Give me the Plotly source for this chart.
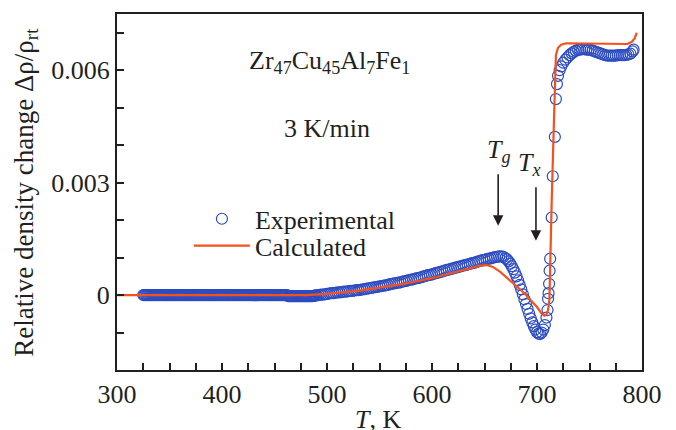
import plotly.graph_objects as go

# Experimental data (T in K, relative density change)
T_exp = [325, 326, 327, 328, 329, 330, 331, 332, 333, 334, 335, 336, 337, 338, 339,
         340, 341, 342, 343, 344, 345, 346, 347, 348, 349, 350, 351, 352, 353, 354,
         355, 356, 357, 358, 359, 360, 361, 362, 363, 364, 365, 366, 367, 368, 369,
         370, 371, 372, 373, 374, 375, 376, 377, 378, 379, 380, 381, 382, 383, 384,
         385, 386, 387, 388, 389, 390, 391, 392, 393, 394, 395, 396, 397, 398, 399,
         400, 401, 402, 403, 404, 405, 406, 407, 408, 409, 410, 411, 412, 413, 414,
         415, 416, 417, 418, 419, 420, 421, 422, 423, 424, 425, 426, 427, 428, 429,
         430, 431, 432, 433, 434, 435, 436, 437, 438, 439, 440, 441, 442, 443, 444,
         445, 446, 447, 448, 449, 450, 451, 452, 453, 454, 455, 456, 457, 458, 459,
         460, 461, 462, 463, 464, 465, 466, 467, 468, 469, 470, 471, 472, 473, 474,
         475, 476, 477, 478, 479, 480, 481, 482, 483, 484, 485, 486, 487, 488, 489,
         490, 492, 494, 496, 498, 500, 502, 504, 506, 508, 510, 512, 514, 516, 518,
         520, 522, 524, 526, 528, 530, 532, 534, 536, 538, 540, 542, 544, 546, 548,
         550, 552, 554, 556, 558, 560, 562, 564, 566, 568, 570, 572, 574, 576, 578,
         580, 582, 584, 586, 588, 590, 592, 594, 596, 598, 600, 602, 604, 606, 608,
         610, 612, 614, 616, 618, 620, 622, 624, 626, 628, 630, 632, 634, 636, 638,
         640, 642, 644, 646, 648, 650, 652, 654, 656, 658, 660, 662, 664, 666, 668,
         670, 671.5, 673, 674.5, 676, 677.5, 679, 680.5, 682, 683.5, 685, 686.5, 688,
         689.5, 691, 692.5, 694, 695.5, 697, 698.5, 700, 701.5, 703, 704.5, 706, 707.5,
         709, 710, 710.5, 711, 711.5, 712, 712.5, 714, 715, 717, 718, 719, 720, 721.5,
         723, 725, 727, 729, 731, 733, 735, 737, 739, 741, 743, 745, 747, 749, 751,
         753, 755, 757, 759, 761, 763, 765, 767, 769, 771, 773, 775, 777, 779, 781,
         783, 785, 787, 789, 791, 792]
rho_exp = [0.0, 0.0, 0.0, 0.0, 0.0, 0.0, 0.0, 0.0, 0.0, 0.0, 0.0, 0.0, 0.0, 0.0, 0.0,
           0.0, 0.0, 0.0, 0.0, 0.0, 0.0, 0.0, 0.0, 0.0, 0.0, 0.0, 0.0, 0.0, 0.0, 0.0,
           0.0, 0.0, 0.0, 0.0, 0.0, 0.0, 0.0, 0.0, 0.0, 0.0, 0.0, 0.0, 0.0, 0.0, 0.0,
           0.0, 0.0, 0.0, 0.0, 0.0, 0.0, 0.0, 0.0, 0.0, 0.0, 0.0, 0.0, 0.0, 0.0, 0.0,
           0.0, 0.0, 0.0, 0.0, 0.0, 0.0, 0.0, 0.0, 0.0, 0.0, 0.0, 0.0, 0.0, 0.0, 0.0,
           0.0, 0.0, 0.0, 0.0, 0.0, 0.0, 0.0, 0.0, 0.0, 0.0, 0.0, 0.0, 0.0, 0.0, 0.0,
           0.0, 0.0, 0.0, 0.0, 0.0, 0.0, 0.0, 0.0, 0.0, 0.0, 0.0, 0.0, 0.0, 0.0, 0.0,
           0.0, 0.0, 0.0, 0.0, 0.0, 0.0, 0.0, 0.0, 0.0, 0.0, 0.0, 0.0, 0.0, 0.0, 0.0,
           0.0, 0.0, 0.0, 0.0, 0.0, 0.0, 0.0, 0.0, 0.0, 0.0, 0.0, 0.0, 0.0, 0.0, 0.0,
           0.0, 0.0, 0.0, -0.00003, -0.00003, -0.00003, -0.00003, -0.00003, -0.00003, -0.00003, -0.00003, -0.00003, -0.00003, -0.00003, -0.00003,
           -0.00003, -0.00003, -0.00003, -0.00003, -0.00003, -0.00003, -0.00003, -0.00003, -0.00003, -0.00003, -0.00003, -0.00003, -0.00002, -0.00002, -0.00001,
           -0.00001, 0.0, 0.00001, 0.00001, 0.00002, 0.00003, 0.00004, 0.00005, 0.00005, 0.00006, 0.00007, 0.00007, 0.00008, 0.00009, 0.00009,
           0.0001, 0.00011, 0.00011, 0.00012, 0.00013, 0.00013, 0.00014, 0.00015, 0.00016, 0.00017, 0.00018, 0.00019, 0.0002, 0.00021, 0.00022,
           0.00023, 0.00024, 0.00025, 0.00026, 0.00027, 0.00029, 0.0003, 0.00031, 0.00032, 0.00033, 0.00034, 0.00036, 0.00037, 0.00038, 0.0004,
           0.00041, 0.00042, 0.00044, 0.00045, 0.00046, 0.00048, 0.0005, 0.00051, 0.00053, 0.00054, 0.00055, 0.00057, 0.00059, 0.0006, 0.00062,
           0.00063, 0.00065, 0.00067, 0.00068, 0.0007, 0.00071, 0.00073, 0.00074, 0.00076, 0.00077, 0.00079, 0.0008, 0.00082, 0.00083, 0.00085,
           0.00086, 0.00088, 0.0009, 0.00091, 0.00093, 0.00094, 0.00096, 0.00097, 0.00098, 0.001, 0.00101, 0.00102, 0.00103, 0.00103, 0.00102,
           0.00098, 0.00095, 0.0009, 0.00084, 0.00077, 0.00069, 0.0006, 0.0005, 0.00039, 0.00027, 0.00015, 0.00002, -0.00011,
           -0.00024, -0.00037, -0.0005, -0.00062, -0.00073, -0.00083, -0.00092, -0.00099, -0.00103, -0.00104, -0.001, -0.00092, -0.0008,
           -0.0006, -0.0004, -0.0001, 0.00005, 0.0003, 0.00065, 0.00097, 0.00207, 0.00317, 0.00422, 0.00523, 0.00563, 0.00585, 0.006,
           0.0061, 0.0062, 0.00628, 0.00634, 0.0064, 0.00645, 0.00649, 0.00652, 0.00654, 0.00655, 0.00656, 0.00656, 0.00655, 0.00655, 0.00654,
           0.00652, 0.0065, 0.00648, 0.00646, 0.00644, 0.00642, 0.0064, 0.00639, 0.00639, 0.00639, 0.00639, 0.00639, 0.0064, 0.0064, 0.0064,
           0.0064, 0.00641, 0.00642, 0.00644, 0.0065, 0.00655]

# Calculated curve
T_calc = [300, 350, 400, 450, 480, 500, 525, 550, 575, 600, 620, 635, 645, 652, 658, 665,
          672, 680, 688, 694, 700, 704, 707, 709, 710.5, 711.8, 712.4, 714, 716, 718,
          720, 723, 728, 740, 760, 780, 786, 790, 793, 795]
rho_calc = [0.0, 0.0, 0.0, 0.0, 0.0, 0.00003, 0.0001, 0.0002, 0.00031, 0.00045, 0.0006, 0.00071, 0.00078, 0.0008, 0.00075, 0.00062,
            0.00045, 0.00024, 0.00005, -0.00014, -0.00032, -0.00048, -0.00055, -0.00052, -0.0004, -0.00013, 0.00075, 0.0025, 0.0045, 0.0064,
            0.0066, 0.00668, 0.00672, 0.00672, 0.0067, 0.0067, 0.0067, 0.00675, 0.00685, 0.007]

x_ticks = [300, 325, 350, 375, 400, 425, 450, 475, 500, 525, 550, 575, 600, 625, 650, 675, 700, 725, 750, 775, 800]
x_labels = ["300", "", "", "", "400", "", "", "", "500", "", "", "", "600", "", "", "", "700", "", "", "", "800"]
y_ticks = [-0.001, 0.0, 0.001, 0.002, 0.003, 0.004, 0.005, 0.006, 0.007]
y_labels = ["", "0", "", "", "0.003", "", "", "0.006", ""]

FONT = "Liberation Serif, Times New Roman, serif"
AX = "#231f20"

fig = go.Figure()
fig.add_trace(go.Scatter(
    x=T_exp, y=rho_exp, mode="markers", name="Experimental", legend="legend",
    marker=dict(symbol="circle-open", size=11, color="#2d4cc0", line=dict(width=1.2, color="#2d4cc0")),
))
fig.add_trace(go.Scatter(
    x=T_calc, y=rho_calc, mode="lines", name="Calculated", legend="legend2",
    line=dict(color="#f4511e", width=2.2),
))

leg_common = dict(xanchor="left", yanchor="middle", bgcolor="rgba(0,0,0,0)",
                  font=dict(size=26), itemwidth=56, borderwidth=0)

fig.update_layout(
    width=668, height=422,
    margin=dict(l=109, r=34, t=4, b=60),
    paper_bgcolor="white", plot_bgcolor="white",
    font=dict(family=FONT, size=26, color=AX),
    showlegend=True,
    legend=dict(x=0.137, y=0.4246, **leg_common),
    legend2=dict(x=0.137, y=0.349, **leg_common),
    xaxis=dict(range=[300, 800], tickvals=x_ticks, ticktext=x_labels, ticks="inside", ticklen=7,
               tickwidth=1.5, tickcolor=AX, showline=True, linewidth=2, linecolor=AX, mirror=True,
               showgrid=False, zeroline=False),
    yaxis=dict(range=[-0.002, 0.0075], tickvals=y_ticks, ticktext=y_labels, ticks="inside", ticklen=7,
               tickwidth=1.5, tickcolor=AX, showline=True, linewidth=2, linecolor=AX, mirror=True,
               showgrid=False, zeroline=False),
)

C = dict(xref="paper", yref="paper", showarrow=False, xanchor="center", yanchor="middle")
ann = [
    dict(text="Zr<sub>47</sub>Cu<sub>45</sub>Al<sub>7</sub>Fe<sub>1</sub>", x=0.405, y=0.865,
         font=dict(size=26), **C),
    dict(text="3 K/min", x=0.40, y=0.679, font=dict(size=26), **C),
    dict(text="<i>T</i><sub><i>g</i></sub>", x=0.728, y=0.615, font=dict(size=26), **C),
    dict(text="<i>T</i><sub><i>x</i></sub>", x=0.786, y=0.578, font=dict(size=26), **C),
    dict(text="", x=663, y=0.00185, ax=0, ay=-53, showarrow=True, arrowhead=2, arrowsize=1.3,
         arrowwidth=1.6, arrowcolor=AX),
    dict(text="", x=699, y=0.00145, ax=0, ay=-55, showarrow=True, arrowhead=2, arrowsize=1.3,
         arrowwidth=1.6, arrowcolor=AX),
    dict(text="<i>T</i>, K", x=0.498, y=-0.092, xref="paper", yref="paper", showarrow=False,
         xanchor="center", yanchor="top", font=dict(size=26)),
    dict(text="Relative density change Δρ/ρ<sub>rt</sub>", x=-0.174, y=0.5, textangle=-90,
         font=dict(size=27), **C),
]
fig.update_layout(annotations=ann)

fig.write_html("out.html")
